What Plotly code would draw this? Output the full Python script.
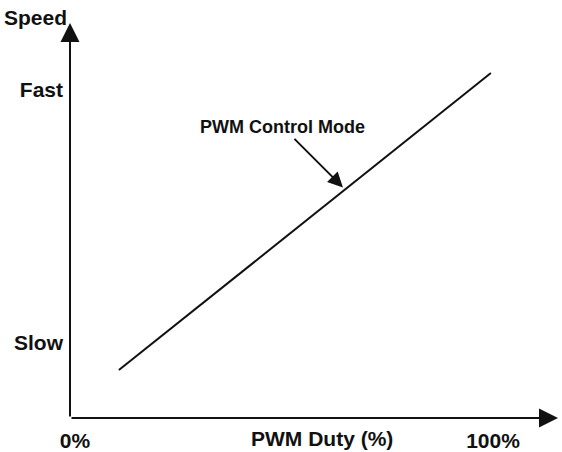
import plotly.graph_objects as go

# line: speed on a scale where Slow = 0 and Fast = 100
duty = [10.5, 99.5]
speed = [-10.7, 106.7]

x_tick_vals = [0, 100]
x_tick_text = ['0%', '100%']
y_tick_vals = [0, 100]
y_tick_text = ['Slow', 'Fast']

x_range = [-1.2, 115.55]
y_range = [-29.64, 126.48]

font = dict(family='Liberation Sans, Arial, sans-serif', size=21, color='#111111', weight='bold')

fig = go.Figure()
fig.add_trace(go.Scatter(x=duty, y=speed, mode='lines', line=dict(color='#111111', width=2), showlegend=False, hoverinfo='skip'))

# axis arrows
fig.add_annotation(x=x_range[1], y=y_range[0], ax=x_range[0], ay=y_range[0], axref='x', ayref='y', xref='x', yref='y',
                   text='', showarrow=True, arrowhead=2, arrowsize=1.9, arrowwidth=2, arrowcolor='#111111')
fig.add_annotation(x=x_range[0], y=y_range[1], ax=x_range[0], ay=y_range[0], axref='x', ayref='y', xref='x', yref='y',
                   text='', showarrow=True, arrowhead=2, arrowsize=1.9, arrowwidth=2, arrowcolor='#111111')

# callout
fig.add_annotation(x=64.1, y=61.5, text='PWM Control Mode', showarrow=True, ax=-60, ay=-60,
                   arrowhead=2, arrowsize=1.5, arrowwidth=2, arrowcolor='#111111', font=dict(font, size=18))

# axis titles
fig.add_annotation(x=-0.0717, y=1.015, xref='paper', yref='paper', text='Speed', showarrow=False,
                   xanchor='center', yanchor='middle', font=font)
fig.add_annotation(x=59.1, y=0, xref='x', yref='paper', text='PWM Duty (%)', showarrow=False,
                   yanchor='middle', yshift=-20, font=font)

fig.update_layout(
    width=562, height=452,
    margin=dict(l=70, r=4, t=23, b=34),
    paper_bgcolor='white', plot_bgcolor='white',
    font=font,
    xaxis=dict(range=x_range, tickvals=x_tick_vals, ticktext=x_tick_text, showgrid=False, zeroline=False,
               showline=False, ticks='', ticklabelstandoff=8, automargin=False),
    yaxis=dict(range=y_range, tickvals=y_tick_vals, ticktext=y_tick_text, showgrid=False, zeroline=False,
               showline=False, ticks='', ticklabelstandoff=6, automargin=False),
)

fig.write_html('out.html', config={'displayModeBar': False}, post_script="document.body.style.margin='0';")
